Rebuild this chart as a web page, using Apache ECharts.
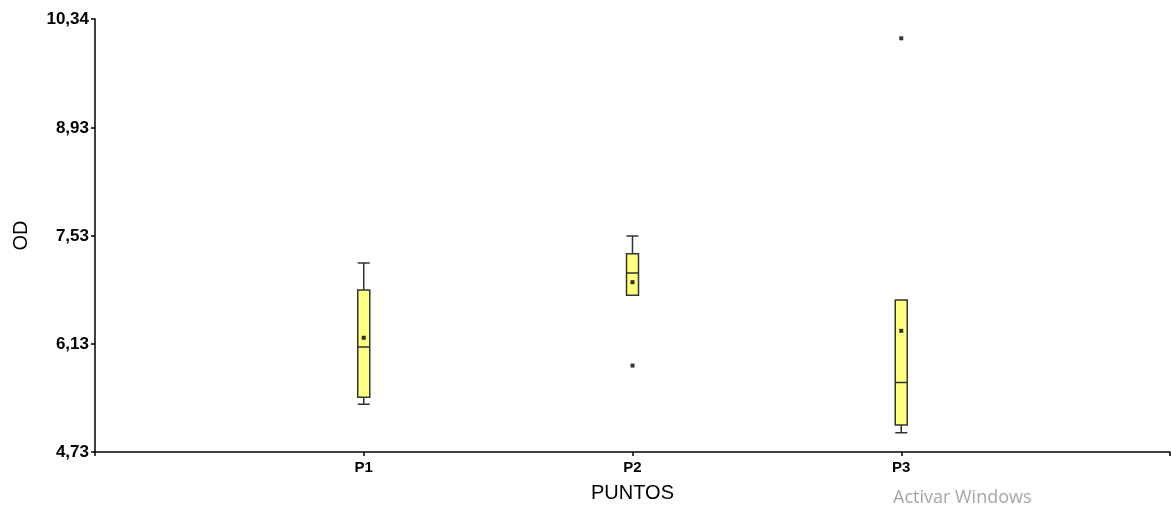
<!DOCTYPE html>
<html>
<head>
<meta charset="utf-8">
<script src="https://cdn.jsdelivr.net/npm/echarts@6/dist/echarts.min.js"></script>
<style>
  html, body { margin: 0; padding: 0; background: #fff; }
  #chart { width: 1171px; height: 509px; }
</style>
</head>
<body>
<div id="chart"></div>
<script>
// categories (blank slots at both ends to match the axis layout)
const categories = ["", "P1", "P2", "P3", ""];
// [category, min, Q1, median, Q3, max]
const boxes = [
  ["P1", 5.35, 5.44, 6.09, 6.83, 7.18],
  ["P2", 6.76, 6.76, 7.05, 7.30, 7.53],
  ["P3", 4.98, 5.08, 5.63, 6.70, 6.70],
];
// mean markers
const means = [
  ["P1", 6.21],
  ["P2", 6.93],
  ["P3", 6.30],
];
// outliers
const outliers = [
  ["P2", 5.85],
  ["P3", 10.09],
];
const yTicks = [4.73, 6.13, 7.53, 8.93, 10.34];

const myChart = echarts.init(document.getElementById("chart"));

const option = {
  animation: false,
  grid: { left: 95, right: 1, top: 19, bottom: 57, outerBoundsMode: "none" },
  xAxis: {
    type: "category",
    data: categories,
    boundaryGap: false,
    name: "PUNTOS",
    nameLocation: "middle",
    nameGap: 31,
    nameTextStyle: { fontFamily: "Liberation Sans", fontSize: 20, color: "#000" },
    axisLine: { lineStyle: { color: "#000", width: 1.5 } },
    axisTick: { show: true, length: 4, lineStyle: { color: "#000", width: 1.5 } },
    axisLabel: {
      fontFamily: "Liberation Sans",
      fontWeight: "bold",
      fontSize: 15,
      color: "#000",
      margin: 8,
    },
    splitLine: { show: false },
  },
  yAxis: {
    type: "value",
    min: 4.73,
    max: 10.34,
    name: "OD",
    nameLocation: "middle",
    nameGap: 64,
    nameRotate: 90,
    nameTextStyle: { fontFamily: "Liberation Sans", fontSize: 20, color: "#000" },
    axisLine: { show: true, lineStyle: { color: "#000", width: 1.5 } },
    axisTick: {
      show: true,
      length: 4,
      customValues: yTicks,
      lineStyle: { color: "#000", width: 1.5 },
    },
    axisLabel: {
      customValues: yTicks,
      fontFamily: "Liberation Sans",
      fontWeight: "bold",
      fontSize: 17,
      color: "#000",
      margin: 6,
      formatter: (v) => v.toFixed(2).replace(".", ","),
    },
    splitLine: { show: false },
  },
  series: [
    {
      type: "boxplot",
      data: boxes,
      encode: { x: 0, y: [1, 2, 3, 4, 5] },
      boxWidth: [12, 12],
      itemStyle: { color: "#ffff80", borderColor: "#333", borderWidth: 1.5 },
    },
    {
      type: "scatter",
      data: means,
      symbol: "rect",
      symbolSize: 4,
      itemStyle: { color: "#000" },
    },
    {
      type: "scatter",
      data: outliers,
      symbol: "rect",
      symbolSize: 4,
      itemStyle: { color: "#000" },
    },
  ],
  graphic: [
    {
      type: "text",
      x: 893,
      y: 498,
      style: {
        text: "Activar Windows",
        fontFamily: "Open Sans",
        fontSize: 18,
        fill: "#a6a6a6",
        verticalAlign: "middle",
      },
    },
  ],
};

myChart.setOption(option);

window.addEventListener("resize", () => {
  myChart.resize();
});
</script>
</body>
</html>
